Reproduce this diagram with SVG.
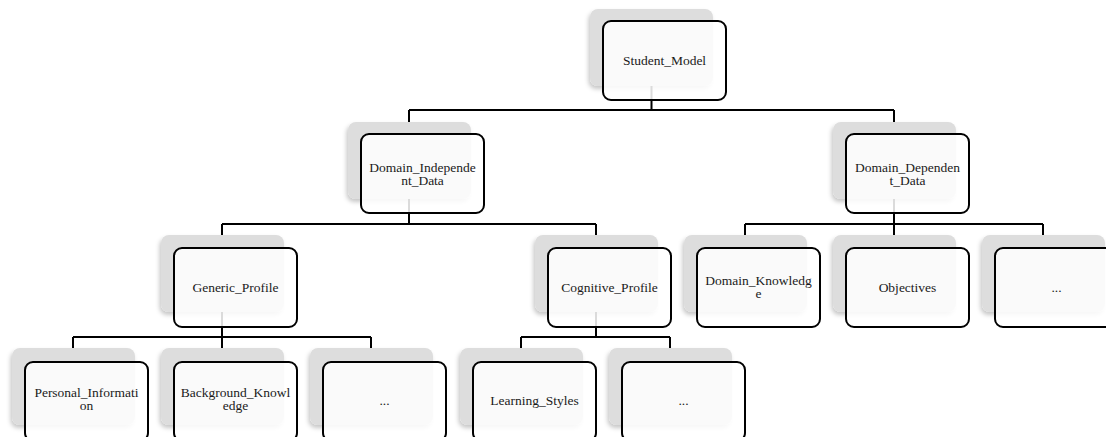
<svg xmlns="http://www.w3.org/2000/svg" width="1106" height="437" viewBox="0 0 1106 437">
  <defs>
    <filter id="soft" x="-10%" y="-10%" width="120%" height="125%">
      <feDropShadow dx="-1.5" dy="3" stdDeviation="2" flood-color="#000" flood-opacity="0.22"/>
    </filter>
    <style>
      .bg { fill: #dddddd; filter: url(#soft); }
      .card { fill: #ffffff; fill-opacity: 0.86; stroke: #000; stroke-width: 2; }
      .lbl { font-family: 'Liberation Serif', 'Times New Roman', serif; font-size: 13.5px; fill: #1a1a1a; text-anchor: middle; }
      .wire { fill: none; stroke: #000; stroke-width: 2; }
    </style>
  </defs>
  <rect width="1106" height="437" fill="#ffffff"/>

  <!-- tree connectors (drawn under the nodes) -->
  <g id="connectors" class="wire">
    <path d="M651.5 85 V110 M409 110 H894 M409 110 V122 M894 110 V122"/>
    <path d="M409 198 V224 M222 224 H596 M222 224 V235 M596 224 V235"/>
    <path d="M894 198 V224 M745 224 H1043 M745 224 V235 M894 224 V235 M1043 224 V235"/>
    <path d="M222 312 V337 M73 337 H371 M73 337 V348 M222 337 V348 M371 337 V348"/>
    <path d="M596 312 V337 M521 337 H670 M521 337 V348 M670 337 V348"/>
  </g>

  <!-- level 0 -->
  <g id="student_model">
    <rect class="bg" x="590" y="9" width="123" height="77" rx="8"/>
    <rect class="card" x="603" y="21" width="123" height="79" rx="8"/>
    <text class="lbl" font-family="Liberation Serif, serif" x="664.5" y="65">Student_Model</text>
  </g>

  <!-- level 1 -->
  <g id="domain_independent_data">
    <rect class="bg" x="348" y="122" width="123" height="77" rx="8"/>
    <rect class="card" x="361" y="134" width="123" height="79" rx="8"/>
    <text class="lbl" x="422.5" y="172">Domain_Independe</text>
    <text class="lbl" x="422.5" y="185">nt_Data</text>
  </g>
  <g id="domain_dependent_data">
    <rect class="bg" x="833" y="122" width="123" height="77" rx="8"/>
    <rect class="card" x="846" y="134" width="123" height="79" rx="8"/>
    <text class="lbl" x="907.5" y="172">Domain_Dependen</text>
    <text class="lbl" x="907.5" y="185">t_Data</text>
  </g>

  <!-- level 2 -->
  <g id="generic_profile">
    <rect class="bg" x="161" y="235" width="123" height="77" rx="8"/>
    <rect class="card" x="174" y="248" width="123" height="79" rx="8"/>
    <text class="lbl" x="235.5" y="292">Generic_Profile</text>
  </g>
  <g id="cognitive_profile">
    <rect class="bg" x="535" y="235" width="123" height="77" rx="8"/>
    <rect class="card" x="548" y="248" width="123" height="79" rx="8"/>
    <text class="lbl" x="609.5" y="292">Cognitive_Profile</text>
  </g>
  <g id="domain_knowledge">
    <rect class="bg" x="684" y="235" width="123" height="77" rx="8"/>
    <rect class="card" x="697" y="248" width="123" height="79" rx="8"/>
    <text class="lbl" x="758.5" y="285">Domain_Knowledg</text>
    <text class="lbl" x="758.5" y="298">e</text>
  </g>
  <g id="objectives">
    <rect class="bg" x="833" y="235" width="123" height="77" rx="8"/>
    <rect class="card" x="846" y="248" width="123" height="79" rx="8"/>
    <text class="lbl" x="907.5" y="292">Objectives</text>
  </g>
  <g id="dependent_more">
    <rect class="bg" x="982" y="235" width="123" height="77" rx="8"/>
    <rect class="card" x="995" y="248" width="123" height="79" rx="8"/>
    <text class="lbl" x="1056.5" y="292">...</text>
  </g>

  <!-- level 3 -->
  <g id="personal_information">
    <rect class="bg" x="12" y="348" width="123" height="77" rx="8"/>
    <rect class="card" x="25" y="362" width="123" height="79" rx="8"/>
    <text class="lbl" x="86.5" y="397">Personal_Informati</text>
    <text class="lbl" x="86.5" y="410">on</text>
  </g>
  <g id="background_knowledge">
    <rect class="bg" x="161" y="348" width="123" height="77" rx="8"/>
    <rect class="card" x="174" y="362" width="123" height="79" rx="8"/>
    <text class="lbl" x="235.5" y="397">Background_Knowl</text>
    <text class="lbl" x="235.5" y="410">edge</text>
  </g>
  <g id="generic_more">
    <rect class="bg" x="310" y="348" width="123" height="77" rx="8"/>
    <rect class="card" x="323" y="362" width="123" height="79" rx="8"/>
    <text class="lbl" x="384.5" y="405">...</text>
  </g>
  <g id="learning_styles">
    <rect class="bg" x="460" y="348" width="123" height="77" rx="8"/>
    <rect class="card" x="473" y="362" width="123" height="79" rx="8"/>
    <text class="lbl" x="534.5" y="405">Learning_Styles</text>
  </g>
  <g id="cognitive_more">
    <rect class="bg" x="609" y="348" width="123" height="77" rx="8"/>
    <rect class="card" x="622" y="362" width="123" height="79" rx="8"/>
    <text class="lbl" x="683.5" y="405">...</text>
  </g>
</svg>
